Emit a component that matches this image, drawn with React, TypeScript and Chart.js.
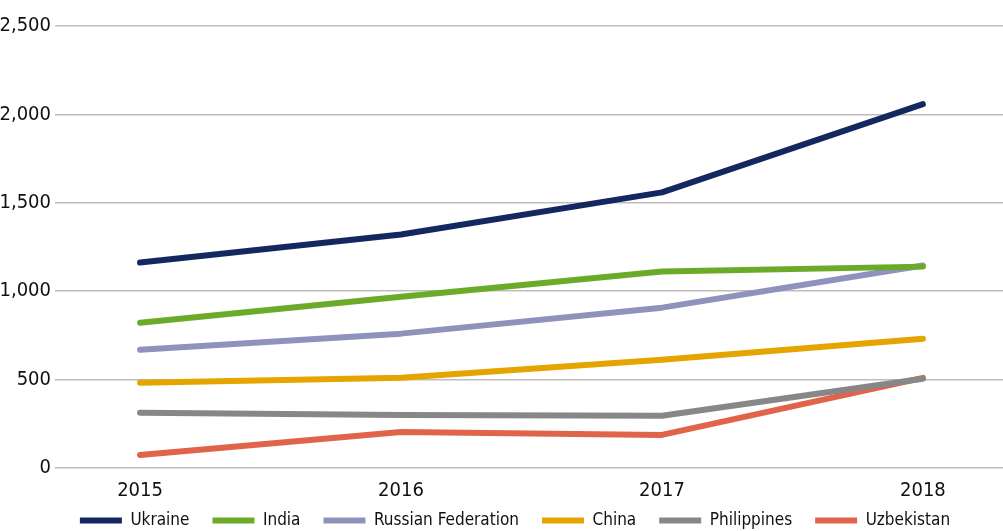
import React, { useEffect, useRef } from "react";
import { Chart, registerables } from "chart.js";

Chart.register(...registerables);

const years = [2015, 2016, 2017, 2018];
const seriesNames = ["Ukraine", "India", "Russian Federation", "China", "Philippines", "Uzbekistan"];
const ukraine = [1162, 1321, 1559, 2058];
const india = [822, 969, 1111, 1139];
const russia = [669, 760, 907, 1145];
const china = [482, 510, 612, 731];
const philippines = [312, 300, 295, 505];
const uzbekistan = [74, 204, 187, 510];
const seriesValues = [ukraine, india, russia, china, philippines, uzbekistan];
const seriesColors = ["#13285e", "#6cab29", "#8f93bb", "#e5a500", "#878787", "#e0644a"];
const yTicks = [0, 500, 1000, 1500, 2000, 2500];

const FONT = "'Liberation Sans Narrow', 'DejaVu Sans Condensed', 'Liberation Sans', sans-serif";

export default function App() {
  const ref = useRef<HTMLCanvasElement | null>(null);
  useEffect(() => {
    if (!ref.current) return;
    const chart = new Chart(ref.current, {
      type: "line",
      data: {
        datasets: seriesNames.map((name, i) => ({
          label: name,
          data: years.map((y, j) => ({ x: y, y: seriesValues[i][j] })),
          borderColor: seriesColors[i],
          backgroundColor: seriesColors[i],
          borderWidth: 6,
          borderCapStyle: "round" as const,
          borderJoinStyle: "round" as const,
          pointRadius: 0,
          pointStyle: "line" as const,
          tension: 0,
        })),
      },
      options: {
        animation: false,
        responsive: false,
        maintainAspectRatio: false,
        layout: { padding: { top: 26, right: 0, left: 27, bottom: -8 } },
        plugins: {
          tooltip: { enabled: false },
          legend: {
            position: "bottom",
            labels: {
              usePointStyle: true,
              pointStyle: "line",
              pointStyleWidth: 42,
              boxWidth: 42,
              boxHeight: 5,
              padding: 23,
              color: "#111",
              font: { family: FONT, size: 17 },
            },
          },
        },
        scales: {
          x: {
            type: "linear",
            min: 2014.674,
            max: 2018.307,
            grid: { display: false },
            border: { display: false },
            afterFit: (scale: any) => {
              scale.height = 21;
              scale._computeLabelArea = () => undefined;
            },
            afterBuildTicks: (scale: any) => {
              scale.ticks = years.map((v) => ({ value: v }));
            },
            ticks: {
              color: "#111",
              font: { family: FONT, size: 20 },
              padding: 3,
              callback: (v: any) => String(v),
            },
          },
          y: {
            min: 0,
            max: 2500,
            afterFit: (scale: any) => {
              scale.width = 28;
              scale._computeLabelArea = () => undefined;
            },
            afterBuildTicks: (scale: any) => {
              scale.ticks = yTicks.map((v) => ({ value: v }));
            },
            grid: { color: "#bdbdbd", lineWidth: 1.5, drawTicks: false },
            border: { display: false },
            ticks: {
              color: "#111",
              font: { family: FONT, size: 20 },
              padding: 4,
              callback: (v: any) => Number(v).toLocaleString("en-US"),
            },
          },
        },
      },
    });
    return () => chart.destroy();
  }, []);
  return (
    <div style={{ position: "fixed", left: 0, top: 0, width: 1003, height: 531, background: "#fff" }}>
      <canvas ref={ref} width={1003} height={531} />
    </div>
  );
}
